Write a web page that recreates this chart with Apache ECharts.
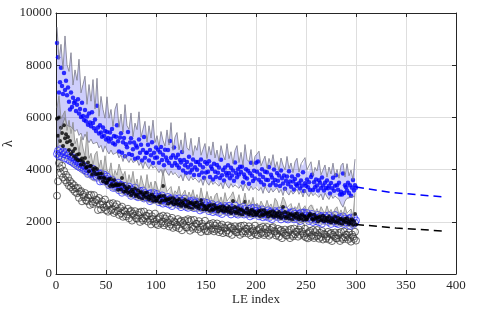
<!DOCTYPE html>
<html>
<head>
<meta charset="utf-8">
<script src="https://cdn.jsdelivr.net/npm/echarts@6/dist/echarts.min.js"></script>
<style>html,body{margin:0;padding:0;background:#fff}#c{width:479px;height:310px}</style>
</head>
<body>
<div id="c"></div>
<script>
// ---- data ----
const X_TICKS = [0, 50, 100, 150, 200, 250, 300, 350, 400];
const Y_TICKS = [0, 2000, 4000, 6000, 8000, 10000];

// LE index 1..300, blue filled dots
const BLUE_DOTS = [
8850,8300,6950,7350,7900,7200,6900,7700,7050,7400,
6850,7150,6600,6300,6950,6400,6750,6550,6620,6250,
6480,6700,6150,6320,6020,6560,6050,5900,6280,5850,
6030,5720,6150,5800,5660,6200,5790,5580,5920,5480,
6450,5610,5380,5700,5420,5260,5610,5300,5480,5150,
5440,5210,5080,5420,5180,5560,5010,5290,4960,5260,
5700,5090,4690,5230,5390,4650,5050,5210,4510,4970,
4860,5440,4600,5040,5200,4560,4780,5040,4420,4920,
4850,4450,5150,4650,4950,4350,4750,5250,4450,4650,
4650,4950,4350,4750,4550,5050,4250,4650,4450,4850,
4465,4765,4265,4665,4865,4365,4565,4165,4765,4465,
4350,4750,4250,5100,4450,4150,4550,4850,4250,4450,
4170,4570,4070,4370,4270,4670,3970,4370,4170,3870,
4290,4090,4490,3890,4190,3990,4390,3790,4090,4290,
3990,4290,3790,4190,4390,3890,4090,3690,4290,3890,
4220,3920,4320,3720,4120,4020,3620,4220,3920,3720,
4180,3880,4080,3680,4380,3780,3980,3580,4080,3880,
3770,4170,3870,3670,4070,3770,3970,3570,4270,3870,
3710,4010,3810,4110,3910,4110,3510,3810,3710,4010,
3660,3960,3460,3860,4260,3760,3560,3960,3660,4260,
3915,4315,3615,3815,3515,4015,3715,3415,3915,3615,
3900,3600,4100,3400,3800,3700,3500,4000,3600,3400,
3870,3570,3770,3370,3970,3670,3470,3770,3270,3570,
3740,3440,3940,3540,3340,3740,3540,3240,3640,3440,
3380,3780,3480,3280,3580,3380,3900,3180,3480,3380,
3620,3320,3520,3220,3720,3800,3220,3520,3320,3620,
3395,3195,3595,3495,3295,3695,3395,3195,3495,3295,
3585,3285,3385,3085,3485,3285,3685,3185,3385,3785,
3400,3230,3500,3050,3150,3050,3850,3100,3400,3320,
3200,3500,3100,3400,3000,3300,3600,3200,3400,3300
];

// LE index 1..300, black filled dots
const BLACK_DOTS = [
5950,5300,6000,5100,5600,5400,4900,5700,5200,5350,
5050,5250,4750,5100,4600,4950,4700,4500,4800,4420,
4570,4360,4600,4360,4190,4430,4310,4195,4440,4070,
4100,4270,3940,4130,4150,3810,4020,3930,4060,3820,
4020,3830,3690,3850,3690,3850,3550,3700,3650,3500,
3500,3590,3640,3370,3640,3440,3370,3600,3400,3460,
3400,3230,3410,3440,3240,3680,3430,3150,3330,3180,
3270,3110,3330,3140,3010,3230,3150,3070,3280,2990,
3050,3200,2940,3110,3140,2870,3050,2990,3110,2920,
3115,2960,2855,3015,2890,3050,2800,2955,2925,2810,
2820,2910,2965,2735,2990,2820,3370,2985,2820,2885,
2840,2695,2860,2900,2730,2770,2915,2675,2840,2715,
2805,2660,2865,2705,2590,2790,2720,2650,2850,2590,
2645,2780,2550,2710,2740,2500,2675,2625,2735,2565,
2740,2605,2510,2655,2830,2690,2470,2605,2585,2480,
2485,2570,2620,2415,2645,2495,2450,2645,2500,2560,
2515,2395,2540,2580,2430,2465,2600,2390,2535,2430,
2510,2385,2565,2425,2325,2505,2800,2390,2570,2340,
2390,2515,2310,2450,2480,2265,2425,2380,2770,2335,
2500,2370,2275,2425,2320,2465,2250,2390,2370,2270,
2280,2365,2415,2215,2440,2295,2250,2445,2300,2360,
2320,2200,2345,2385,2235,2270,2405,2195,2340,2235,
2320,2195,2375,2235,2135,2315,2570,2200,2380,2150,
2205,2330,2125,2265,2295,2080,2240,2195,2295,2150,
2320,2190,2095,2245,2140,2285,2070,2210,2190,2090,
2100,2185,2240,2300,2265,2115,2075,2270,2120,2185,
2145,2025,2170,2210,2060,2095,2230,2020,2165,2060,
2145,2020,2200,2060,1960,2140,2085,2025,2205,1975,
2030,2150,1950,2090,2115,1905,2060,2015,2115,1970,
2140,2010,1915,2065,1955,2100,1880,2020,2300,1900
];

// LE index 1..300, blue open circles
const BLUE_CIRCLES = [
4600,4720,4520,4780,4640,4480,4700,4590,4430,4660,
4540,4380,4620,4330,4480,4290,4470,4230,4390,4180,
4310,4120,4260,4080,4210,4030,4170,3980,4120,3930,
4023,3830,4025,4056,3831,3867,4033,3724,3914,3744,
3691,3793,3852,3547,3854,3628,3552,3812,3592,3655,
3738,3541,3400,3589,3425,3620,3301,3482,3443,3288,
3338,3500,3205,3391,3418,3114,3318,3247,3376,3156,
3280,3102,3349,3147,2997,3244,3154,3065,3306,2984,
3118,2940,3140,3186,2971,3017,3198,2894,3099,2939,
2896,3008,3077,2792,3104,2893,2832,3102,2892,2970,
3063,2876,2750,2954,2800,3010,2696,2892,2863,2723,
2778,2950,2665,2861,2898,2604,2818,2757,2896,2686,
2820,2647,2899,2702,2562,2814,2724,2640,2891,2574,
2708,2535,2740,2791,2586,2637,2818,2524,2729,2780,
2536,2653,2722,2437,2754,2548,2482,2757,2552,2630,
2723,2541,2410,2619,2470,2680,2371,2567,2543,2403,
2458,2635,2350,2551,2593,2299,2518,2462,2601,2396,
2530,2362,2614,2422,2282,2539,2454,2375,2626,2314,
2448,2275,2485,2536,2336,2387,2573,2279,2489,2339,
2296,2418,2492,2207,2529,2323,2262,2542,2337,2420,
2518,2336,2210,2414,2265,2475,2171,2367,2343,2203,
2263,2440,2155,2356,2398,2104,2323,2267,2406,2201,
2340,2172,2424,2232,2092,2349,2264,2185,2436,2124,
2263,2090,2300,2351,2151,2202,2388,2094,2304,2154,
2116,2238,2312,2027,2349,2143,2340,2362,2157,2240,
2338,2156,2030,2239,2090,2300,1991,2192,2163,2028,
2088,2265,1980,2181,2223,1929,2148,2092,2231,2026,
2165,1997,2249,2057,1917,2174,2089,2010,2261,1949,
2088,1915,2125,2176,1971,2022,2208,1914,2124,1974,
1936,2053,2127,1842,2164,1958,1897,2172,1967,2050
];

// LE index 1..300, black open circles
const BLACK_CIRCLES = [
3000,3550,4250,4050,3850,4150,3700,3950,3600,3800,
3500,3700,3380,3560,3330,3470,3240,3400,3150,3290,
3092,3294,2919,3145,3178,2786,3041,2946,3102,2821,
2794,2931,3015,2650,3038,2772,2687,3022,2751,2847,
2832,2450,2913,2659,2475,2781,2662,2548,2854,2448,
2614,2389,2642,2702,2436,2491,2715,2338,2591,2400,
2670,2433,2266,2524,2328,2581,2192,2433,2394,2210,
2282,2499,2134,2375,2423,2046,2316,2236,2407,2141,
2119,2261,2350,1995,2388,2127,2052,2392,2131,2232,
2222,2007,2318,2074,1900,2211,2107,2003,2314,1918,
2094,1874,2137,2197,1941,2006,2235,1863,2126,1935,
2210,1978,1821,2079,1893,2151,1767,2013,1979,1805,
1882,2104,1749,1995,2043,1676,1951,1871,2052,1791,
1774,2100,2015,1660,2063,1802,1727,2072,1816,1922,
1917,1707,2023,1779,1610,1926,1827,1723,2039,1648,
1817,1637,1861,1916,1693,1753,1950,1634,1858,1700,
1935,1739,1603,1827,1669,1893,1566,1779,1752,1605,
1671,1862,1557,1770,1814,1498,1738,1673,1826,1608,
1592,1718,1800,1500,1844,1626,1561,1856,1638,1731,
1729,1549,1824,1619,1475,1748,1664,1579,1854,1518,
1672,1487,1711,1771,1553,1608,1810,1494,1723,1560,
1800,1604,1468,1697,1534,1763,1800,1649,1622,1475,
1546,1732,1432,1645,1689,1373,1613,1548,1701,1483,
1467,1598,1680,1375,1724,1506,1441,1741,1523,1616,
1611,1431,1704,1502,1840,1633,1546,1459,1737,1399,
1552,1367,1596,1651,1433,1493,1690,1379,1603,1445,
1685,1489,1353,1577,1419,1648,1321,1534,1507,1360,
1431,1617,1317,1530,1574,1263,1498,1438,1591,1373,
1357,1488,1570,1265,1609,1391,1331,1626,1408,1501,
1501,1316,1594,1387,1240,1513,1426,1344,1617,1279
];

// band edges at LE index 1,3,5,...,299
const BLUE_UPPER = [
9460,8220,8800,7840,9120,8020,7760,8480,7240,7820,
7420,8230,6940,7260,7580,6500,7260,6620,7450,6320,
7500,6040,6805,6305,5970,6790,5970,6305,5650,6315,
6540,5620,6130,5430,6490,5680,5540,6170,5260,5780,
5530,6215,5250,5550,5850,5050,5680,5210,5895,5040,
5300,4880,5460,5120,4900,5520,4940,5800,4740,5240,
5420,4760,5140,4640,5420,4840,4740,5200,4540,4920,
4740,5245,4550,4775,5000,4425,4890,4555,5060,4445,
4750,4335,4920,4585,4370,4995,4420,4685,4230,4735,
4920,4270,4660,4170,4960,4390,4300,4770,4120,4510,
4600,4707,4145,4330,4515,4050,4430,4160,4573,4075,
4305,3968,4444,4172,3997,4505,4038,4254,3884,4295,
4435,3905,4220,4150,4460,3995,3920,4300,3770,4085,
3945,4360,3800,3989,4177,3715,4098,3831,4247,3752,
4005,3672,4152,4250,3713,4225,3762,3982,3616,4400
];
const BLUE_LOWER = [
4760,5130,5620,5650,5980,5690,5650,5640,5560,5460,
5540,5310,5400,5130,5360,5170,5030,5170,4990,5040,
5050,4830,4930,4670,4910,4730,4600,4750,4580,4640,
4660,4450,4560,4310,4560,4390,4270,4430,4270,4340,
4360,4160,4280,4040,4300,4140,4030,4200,4050,4130,
4080,3884,4008,3772,4036,3880,3774,3948,3802,3886,
3870,3675,3800,3565,3830,3675,3570,3745,3600,3685,
3700,3505,3630,3395,3660,3505,3400,3575,3430,3515,
3555,3365,3495,3265,3535,3385,3285,3465,3325,3415,
3475,3283,3411,3179,3447,3295,3193,3371,3229,3317,
3385,3193,3321,3089,3357,3205,3103,3281,3139,3227,
3305,3113,3241,3009,3277,3125,3023,3201,3059,3147,
3245,3053,3181,2949,3217,3065,2963,3141,2999,3087,
3125,2935,3065,2835,3105,2955,2855,3035,2895,2985,
3030,2860,2680,2560,2790,2900,2860,2950,2900,2980
];
const GRAY_UPPER = [
6370,6835,5950,6100,6250,5500,5890,5380,5815,4990,
5200,4670,5265,4825,4520,5450,4435,4625,4185,4585,
4700,4080,4370,3890,4530,3990,3880,4260,3660,3970,
3790,4211,3950,3758,3934,3410,3806,3502,3933,3384,
3640,3268,3771,3469,3272,3810,3302,3529,3126,3563,
3495,3121,3332,3980,3484,3155,3096,3352,2978,3189,
3085,3365,2969,3091,3213,2885,3142,2949,3229,2878,
3045,2808,3300,2942,2817,3165,2838,2984,2724,3005,
3105,2737,2954,2676,3118,2795,2742,3004,3150,2853,
2755,3040,2649,2776,3100,2580,2842,2654,2939,2593,
2720,2537,2793,2645,2550,2822,2570,2685,2485,2900,
2785,2498,2666,2950,2792,2540,2498,2701,2414,2582,
2505,2726,2421,2519,2617,2365,2568,2650,2642,2372,
2505,2323,2579,2432,2337,2610,2358,2474,2274,2495,
2575,2288,2456,2239,2582,2330,2288,2491,2204,3100
];
const GRAY_LOWER = [
3800,4100,4300,4400,4450,4400,4300,4250,4150,4100,
4050,3980,3900,3850,3780,3720,3680,3620,3570,3520,
3620,3560,3500,3440,3380,3330,3290,3250,3210,3170,
3150,3117,3083,3050,3017,2980,2956,2932,2908,2884,
2870,2848,2826,2804,2782,2760,2742,2724,2706,2688,
2690,2676,2663,2650,2636,2620,2607,2593,2580,2567,
2550,2537,2523,2510,2497,2480,2469,2458,2447,2436,
2420,2407,2393,2380,2367,2350,2341,2332,2323,2314,
2300,2293,2287,2280,2273,2260,2253,2247,2240,2233,
2220,2213,2207,2200,2193,2180,2173,2167,2160,2153,
2145,2138,2131,2124,2117,2105,2099,2092,2086,2079,
2070,2063,2057,2050,2043,2035,2029,2022,2016,2009,
2000,1993,1987,1980,1973,1965,1959,1952,1946,1939,
1930,1923,1917,1910,1903,1895,1889,1882,1876,1869,
1860,1852,1844,1836,1828,1820,1811,1802,1793,1784
];

// extrapolations (dashed)
const BLUE_DASH_X = [300, 334, 388];
const BLUE_DASH_Y = [3330, 3130, 2950];
const BLACK_DASH_X = [300, 340, 390];
const BLACK_DASH_Y = [1900, 1760, 1640];

// ---- build ----
const dotX = BLUE_DOTS.map((_, i) => i + 1);
const bandX = BLUE_UPPER.map((_, i) => 2 * i + 1);
const pairs = (xs, ys) => ys.map((y, i) => [xs[i], y]);

const FONT = 'Liberation Serif';
const TXT = '#262626';

function bandSeries(up, lo, fill) {
  return {
    type: 'custom',
    data: [[bandX[0], lo[0]]],
    encode: { x: 0, y: 1 },
    silent: true,
    renderItem: function (params, api) {
      const pts = [];
      for (let i = 0; i < bandX.length; i++) pts.push(api.coord([bandX[i], up[i]]));
      for (let i = bandX.length - 1; i >= 0; i--) pts.push(api.coord([bandX[i], lo[i]]));
      return { type: 'polygon', shape: { points: pts }, style: { fill: fill, stroke: null } };
    }
  };
}
function edge(ys, color) {
  return {
    type: 'line', data: pairs(bandX, ys), symbol: 'none', silent: true,
    lineStyle: { color: color, width: 0.8 }
  };
}

const axisCommon = {
  min: 0,
  axisLine: { show: true, onZero: false, lineStyle: { color: TXT, width: 1 } },
  axisTick: { show: true, inside: true, length: 4, lineStyle: { color: TXT } },
};

const option = {
  animation: false,
  backgroundColor: '#fff',
  grid: { left: 56, right: 23, top: 13, bottom: 36, containLabel: false, outerBoundsMode: 'none' },
  xAxis: [
    Object.assign({}, axisCommon, {
      type: 'value', max: 400, interval: 50, position: 'bottom',
      axisLabel: { fontFamily: FONT, fontSize: 13, color: TXT, margin: 5,
        formatter: v => X_TICKS.includes(v) ? String(v) : '' },
      splitLine: { show: true, lineStyle: { color: '#dedede', width: 1 } },
      name: 'LE index', nameLocation: 'middle', nameGap: 19, nameMoveOverlap: false,
      nameTextStyle: { fontFamily: FONT, fontSize: 13, color: TXT }
    }),
    Object.assign({}, axisCommon, {
      type: 'value', max: 400, interval: 50, position: 'top',
      axisLabel: { show: false }, splitLine: { show: false }
    })
  ],
  yAxis: [
    Object.assign({}, axisCommon, {
      type: 'value', max: 10000, interval: 2000, position: 'left',
      axisLabel: { fontFamily: FONT, fontSize: 13, color: TXT, margin: 4,
        formatter: v => Y_TICKS.includes(v) ? String(v) : '' },
      splitLine: { show: true, lineStyle: { color: '#dedede', width: 1 } },
      name: 'λ', nameLocation: 'middle', nameGap: 41, nameRotate: 90, nameMoveOverlap: false,
      nameTextStyle: { fontFamily: FONT, fontSize: 14, color: TXT }
    }),
    Object.assign({}, axisCommon, {
      type: 'value', max: 10000, interval: 2000, position: 'right',
      axisLabel: { show: false }, splitLine: { show: false }
    })
  ],
  series: [
    bandSeries(BLUE_UPPER, BLUE_LOWER, 'rgba(60,60,240,0.25)'),
    edge(BLUE_UPPER, '#7a7a8a'),
    edge(BLUE_LOWER, '#7a7a8a'),
    bandSeries(GRAY_UPPER, GRAY_LOWER, 'rgba(0,0,0,0.18)'),
    edge(GRAY_UPPER, '#8a8a8a'),
    edge(GRAY_LOWER, '#a8a8a8'),
    { type: 'scatter', data: pairs(dotX, BLACK_CIRCLES), symbol: 'circle', symbolSize: 7, silent: true,
      itemStyle: { color: 'rgba(0,0,0,0)', borderColor: '#333', borderWidth: 0.9 } },
    { type: 'scatter', data: pairs(dotX, BLUE_CIRCLES), symbol: 'circle', symbolSize: 7, silent: true,
      itemStyle: { color: 'rgba(0,0,0,0)', borderColor: '#2020ff', borderWidth: 0.9 } },
    { type: 'scatter', data: pairs(dotX, BLACK_DOTS), symbol: 'circle', symbolSize: 4, silent: true,
      itemStyle: { color: '#000' } },
    { type: 'scatter', data: pairs(dotX, BLUE_DOTS), symbol: 'circle', symbolSize: 4.5, silent: true,
      itemStyle: { color: '#0000ff' } },
    { type: 'line', data: pairs(BLUE_DASH_X, BLUE_DASH_Y), symbol: 'none', silent: true,
      lineStyle: { color: '#0000ff', width: 1.5, type: [8, 5] } },
    { type: 'line', data: pairs(BLACK_DASH_X, BLACK_DASH_Y), symbol: 'none', silent: true,
      lineStyle: { color: '#000', width: 1.5, type: [8, 5] } }
  ]
};

const chart = echarts.init(document.getElementById('c'), null, { renderer: 'canvas' });
chart.setOption(option);
</script>
</body>
</html>
